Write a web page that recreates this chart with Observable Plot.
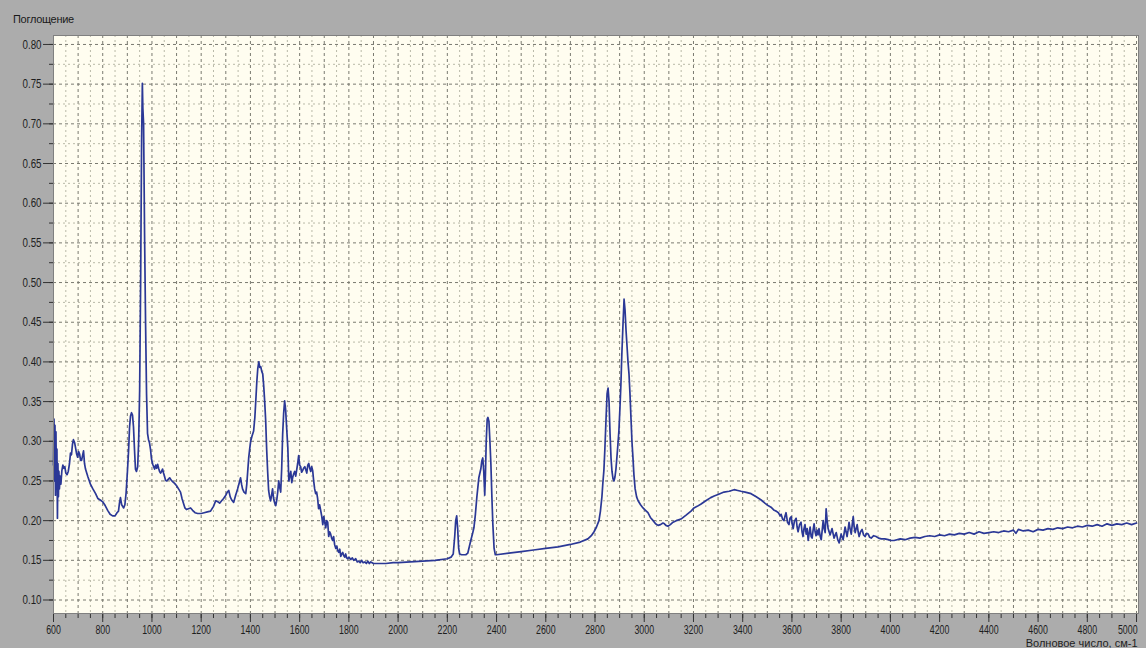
<!DOCTYPE html>
<html><head><meta charset="utf-8">
<script src="https://cdn.jsdelivr.net/npm/d3@7"></script>
<script src="https://cdn.jsdelivr.net/npm/@observablehq/plot@0.6"></script>
<style>
html,body{margin:0;padding:0;background:#acacac;}
#wrap{width:1146px;height:648px;overflow:hidden;position:relative;background:#acacac;font-family:"Liberation Sans",Arial,sans-serif;}
#title{height:18px;padding-top:10px;padding-left:13px;font-size:11px;line-height:18px;color:#1a1a1a;letter-spacing:-0.3px;}
#chart svg{display:block;}
</style></head><body><div id="wrap"><div id="title">Поглощение</div><div id="chart"></div></div>
<script>
const yTitle = "Поглощение";
const xTitle = "Волновое число, см-1";

const wavenumber = [
600,602,604,606,608,610,612,614,616,618,
620,622,624,627,630,634,638,642,646,650,
655,660,665,669,673,677,681,686,690,694,
698,702,706,710,714,718,722,726,730,740,
750,760,771,780,790,799,810,820,830,840,
850,858,864,868,872,877,885,890,895,900,
905,909,913,917,921,925,929,933,937,942,
946,950,954,958,961,963,966,970,974,978,
982,986,990,994,998,1003,1007,1011,1015,1019,
1023,1027,1031,1035,1039,1043,1047,1051,1055,1060,
1066,1072,1078,1085,1092,1100,1108,1116,1122,1128,
1134,1140,1148,1157,1165,1175,1186,1200,1212,1225,
1238,1250,1259,1267,1275,1283,1291,1300,1306,1312,
1318,1324,1332,1340,1348,1355,1360,1364,1368,1374,
1381,1385,1389,1393,1397,1401,1406,1413,1418,1422,
1426,1430,1434,1438,1442,1446,1450,1454,1458,1462,
1466,1470,1474,1478,1482,1486,1490,1494,1499,1503,
1507,1511,1515,1519,1523,1527,1531,1535,1539,1543,
1547,1552,1556,1560,1564,1568,1572,1576,1580,1584,
1588,1592,1596,1600,1604,1608,1612,1616,1621,1625,
1629,1633,1637,1641,1645,1649,1653,1657,1661,1665,
1669,1673,1677,1681,1686,1690,1694,1698,1702,1706,
1710,1714,1718,1722,1726,1730,1734,1738,1742,1747,
1751,1755,1759,1763,1767,1771,1775,1779,1783,1787,
1791,1795,1800,1808,1814,1820,1828,1834,1840,1846,
1852,1858,1865,1871,1877,1883,1889,1900,1920,1950,
1980,2000,2050,2100,2150,2200,2215,2224,2230,2234,
2238,2242,2246,2250,2258,2267,2275,2283,2290,2296,
2302,2308,2314,2320,2328,2336,2340,2344,2348,2352,
2355,2358,2362,2365,2369,2373,2377,2381,2385,2390,
2395,2400,2450,2500,2550,2600,2650,2700,2740,2771,
2785,2796,2806,2816,2822,2828,2832,2836,2840,2845,
2849,2853,2857,2861,2865,2869,2873,2877,2881,2885,
2889,2893,2897,2901,2905,2909,2914,2918,2922,2926,
2930,2934,2938,2942,2946,2950,2954,2958,2963,2969,
2975,2985,2995,3005,3015,3025,3036,3046,3056,3066,
3076,3082,3088,3096,3106,3117,3130,3149,3170,3190,
3202,3215,3231,3250,3270,3284,3300,3324,3345,3365,
3380,3393,3410,3434,3455,3475,3490,3503,3515,3528,
3536,3545,3552,3556,3562,3568,3572,3576,3582,3588,
3592,3597,3601,3605,3610,3617,3621,3625,3631,3637,
3641,3645,3649,3653,3658,3662,3666,3670,3674,3678,
3682,3686,3690,3694,3698,3702,3706,3710,3715,3719,
3723,3727,3731,3735,3739,3743,3747,3751,3755,3759,
3763,3767,3771,3776,3780,3786,3792,3796,3800,3804,
3808,3812,3816,3820,3824,3828,3832,3836,3841,3845,
3849,3853,3857,3861,3865,3869,3873,3879,3885,3891,
3897,3903,3910,3916,3922,3932,3942,3952,3963,3977,
3991,4003,4015,4040,4060,4080,4100,4120,4140,4160,
4180,4200,4220,4240,4260,4280,4300,4320,4340,4360,
4380,4400,4420,4440,4460,4480,4500,4510,4520,4540,
4560,4580,4600,4620,4640,4660,4680,4700,4720,4740,
4760,4780,4800,4820,4840,4860,4880,4900,4920,4940,
4960,4980,5000
];

const absorbance = [
0.270,0.328,0.250,0.320,0.232,0.312,0.240,0.290,0.203,0.272,
0.230,0.262,0.240,0.256,0.246,0.263,0.270,0.266,0.268,0.260,
0.258,0.262,0.272,0.285,0.283,0.296,0.302,0.298,0.291,0.284,
0.280,0.287,0.284,0.276,0.276,0.282,0.288,0.272,0.265,0.255,
0.246,0.240,0.234,0.228,0.226,0.224,0.219,0.213,0.208,0.206,
0.206,0.210,0.212,0.222,0.229,0.220,0.216,0.220,0.235,0.260,
0.288,0.318,0.332,0.336,0.333,0.318,0.290,0.265,0.262,0.268,
0.300,0.364,0.500,0.680,0.751,0.720,0.700,0.560,0.450,0.360,
0.310,0.302,0.298,0.290,0.278,0.271,0.268,0.265,0.270,0.266,
0.271,0.266,0.262,0.260,0.262,0.265,0.260,0.256,0.251,0.250,
0.252,0.254,0.251,0.249,0.247,0.244,0.240,0.236,0.228,0.222,
0.216,0.214,0.215,0.216,0.213,0.210,0.209,0.209,0.210,0.211,
0.212,0.218,0.225,0.224,0.222,0.225,0.228,0.232,0.236,0.238,
0.230,0.226,0.223,0.232,0.240,0.248,0.254,0.246,0.240,0.236,
0.234,0.245,0.262,0.279,0.290,0.300,0.306,0.313,0.330,0.352,
0.375,0.392,0.400,0.393,0.394,0.388,0.385,0.370,0.350,0.326,
0.290,0.262,0.238,0.230,0.225,0.232,0.240,0.228,0.222,0.219,
0.226,0.236,0.250,0.242,0.236,0.265,0.309,0.335,0.351,0.340,
0.318,0.292,0.250,0.256,0.262,0.248,0.255,0.259,0.262,0.256,
0.264,0.272,0.282,0.270,0.268,0.261,0.263,0.266,0.268,0.264,
0.260,0.270,0.272,0.266,0.262,0.268,0.263,0.250,0.240,0.234,
0.236,0.228,0.215,0.220,0.212,0.205,0.195,0.205,0.198,0.191,
0.200,0.198,0.180,0.186,0.183,0.178,0.175,0.180,0.170,0.165,
0.168,0.162,0.160,0.164,0.155,0.158,0.160,0.156,0.154,0.158,
0.153,0.152,0.154,0.151,0.153,0.150,0.152,0.148,0.149,0.147,
0.150,0.147,0.148,0.146,0.149,0.146,0.148,0.146,0.146,0.146,
0.147,0.147,0.148,0.149,0.150,0.152,0.154,0.158,0.180,0.200,
0.206,0.190,0.165,0.158,0.157,0.157,0.157,0.159,0.168,0.176,
0.183,0.191,0.208,0.230,0.254,0.265,0.275,0.279,0.262,0.232,
0.260,0.300,0.328,0.330,0.325,0.300,0.271,0.230,0.195,0.165,
0.157,0.157,0.159,0.161,0.163,0.165,0.167,0.170,0.173,0.177,
0.181,0.186,0.192,0.200,0.212,0.230,0.248,0.263,0.290,0.330,
0.360,0.367,0.350,0.310,0.279,0.262,0.253,0.250,0.255,0.265,
0.280,0.296,0.313,0.340,0.370,0.410,0.450,0.479,0.465,0.440,
0.420,0.400,0.385,0.360,0.330,0.300,0.280,0.258,0.240,0.230,
0.225,0.220,0.216,0.213,0.210,0.204,0.200,0.196,0.194,0.195,
0.197,0.196,0.194,0.193,0.195,0.198,0.200,0.202,0.207,0.212,
0.216,0.218,0.221,0.225,0.229,0.231,0.233,0.236,0.237,0.239,
0.238,0.237,0.236,0.234,0.230,0.226,0.222,0.219,0.217,0.213,
0.212,0.210,0.206,0.208,0.202,0.200,0.206,0.210,0.198,0.195,
0.203,0.205,0.196,0.190,0.199,0.203,0.192,0.186,0.195,0.198,
0.186,0.180,0.190,0.195,0.183,0.190,0.175,0.184,0.192,0.180,
0.178,0.188,0.196,0.186,0.181,0.188,0.182,0.190,0.180,0.176,
0.188,0.200,0.190,0.185,0.215,0.200,0.190,0.186,0.182,0.186,
0.190,0.184,0.178,0.182,0.185,0.176,0.172,0.178,0.183,0.179,
0.176,0.184,0.192,0.186,0.180,0.188,0.198,0.190,0.183,0.195,
0.205,0.192,0.185,0.190,0.195,0.186,0.180,0.186,0.189,0.182,
0.180,0.184,0.183,0.179,0.178,0.181,0.180,0.178,0.177,0.177,
0.176,0.175,0.175,0.177,0.176,0.178,0.179,0.178,0.180,0.181,
0.180,0.182,0.181,0.183,0.182,0.184,0.183,0.185,0.183,0.186,
0.184,0.185,0.186,0.185,0.187,0.186,0.188,0.184,0.189,0.187,
0.188,0.186,0.189,0.188,0.190,0.189,0.191,0.190,0.192,0.191,
0.193,0.192,0.194,0.193,0.195,0.193,0.196,0.194,0.196,0.195,
0.197,0.195,0.197
];

const xTickValues = [600,800,1000,1200,1400,1600,1800,2000,2200,2400,2600,2800,3000,3200,3400,3600,3800,4000,4200,4400,4600,4800,5000];
const yTickValues = [0.10,0.15,0.20,0.25,0.30,0.35,0.40,0.45,0.50,0.55,0.60,0.65,0.70,0.75,0.80];

if (wavenumber.length !== absorbance.length) throw new Error("length mismatch " + wavenumber.length + " " + absorbance.length);

const data = wavenumber.map((w, i) => ({w, a: absorbance[i]}));

const xMinor = d3.range(600, 5001, 50);
const xGridMajor = d3.range(600, 5001, 100);
const xGridMinor = d3.range(650, 5001, 100);
const yMinor = d3.range(0.10, 0.8001, 0.025);
const yGridMinor = d3.range(0.125, 0.80, 0.05);

const plot = Plot.plot({
  width: 1146, height: 620,
  marginTop: 7, marginBottom: 35, marginLeft: 53, marginRight: 8,
  style: {background: "transparent", fontFamily: "'Liberation Sans', Arial, sans-serif", fontSize: "13px", color: "#1e1e1e", overflow: "hidden"},
  x: {domain: [600, 5008], label: null},
  y: {domain: [0.083, 0.8113], label: null},
  marks: [
    Plot.frame({fill: "#fffdf0", stroke: null}),
    Plot.ruleX(xGridMinor, {stroke: "#b9b9a8", strokeDasharray: "2,3", strokeWidth: 1}),
    Plot.ruleX(xGridMajor, {stroke: "#7a7a70", strokeDasharray: "3,3", strokeWidth: 1}),
    Plot.ruleY(yGridMinor, {stroke: "#b9b9a8", strokeDasharray: "2,3", strokeWidth: 1}),
    Plot.ruleY(yTickValues, {stroke: "#7a7a70", strokeDasharray: "3,3", strokeWidth: 1}),
    Plot.axisX({ticks: xMinor, tickSize: 5, tickFormat: () => "", label: null, stroke: "#333"}),
    Plot.axisX({ticks: xTickValues, tickSize: 9, tickPadding: 2, tickFormat: d => String(d), label: null, stroke: "#333", fill: "#1e1e1e"}),
    Plot.axisY({ticks: yMinor, tickSize: 4, tickFormat: () => "", label: null, stroke: "#333"}),
    Plot.axisY({ticks: yTickValues, tickSize: 10, tickPadding: 2, tickFormat: d => d.toFixed(2), label: null, stroke: "#333", fill: "#1e1e1e"}),
    Plot.line(data, {x: "w", y: "a", stroke: "#2b3896", strokeWidth: 1.7}),
    Plot.frame({stroke: "#808080"}),
    Plot.text([xTitle], {frameAnchor: "bottom-right", dy: 33, dx: -1, textAnchor: "end", lineAnchor: "bottom", fontSize: 11, fill: "#1e1e1e"})
  ]
});

plot.querySelectorAll('g[aria-label="x-axis tick label"] text').forEach(t => {
  const s = t.textContent;
  if (s) {
    t.setAttribute("textLength", s.length * 4.9);
    t.setAttribute("lengthAdjust", "spacingAndGlyphs");
    if (s === "5000") { t.setAttribute("text-anchor", "end"); t.setAttribute("dx", "1"); }
  }
});
plot.querySelectorAll('g[aria-label="y-axis tick label"] text').forEach(t => {
  const s = t.textContent;
  if (s) { t.setAttribute("textLength", 19); t.setAttribute("lengthAdjust", "spacingAndGlyphs"); }
});

document.getElementById("chart").appendChild(plot);
</script>
</body></html>
